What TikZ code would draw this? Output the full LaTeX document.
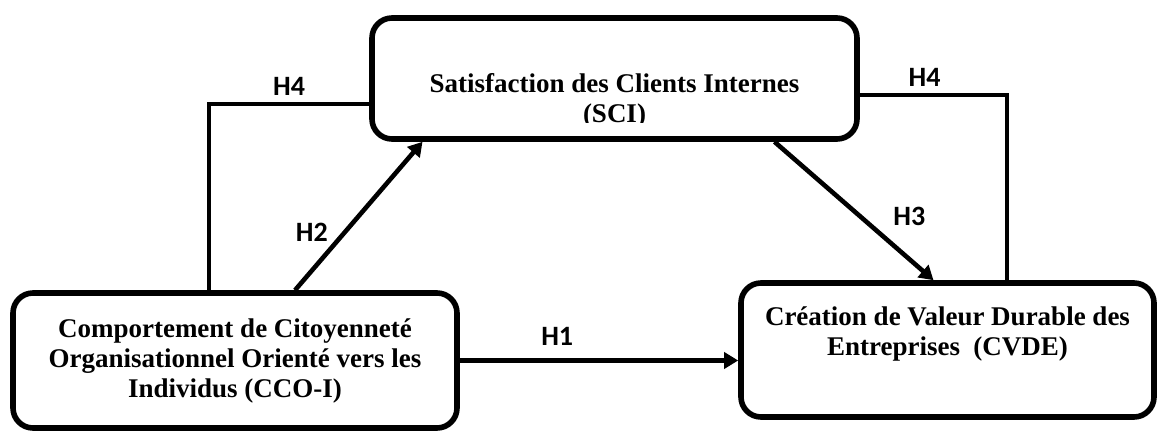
\documentclass[tikz,border=0pt]{standalone}
\usepackage{fontspec}
\setmainfont{Liberation Serif}
\newfontfamily\hypfont{Carlito}
\usetikzlibrary{arrows.meta}

\begin{document}
\begin{tikzpicture}[
  x=0.5pt, y=-0.5pt,
  >={Triangle[length=7pt,width=8pt]},
  link/.style={line width=2.3pt},
  arr/.style={link,->},
  construct/.style={draw,line width=2.8pt,rounded corners=10pt,inner sep=0pt},
  lbl/.style={font=\bfseries\fontsize{13.5}{15}\selectfont,align=center,inner sep=0pt},
  hyp/.style={font=\hypfont\bfseries\fontsize{14}{16}\selectfont}
]
\useasboundingbox (0,0) rectangle (1157,432);

% the three constructs
\node[construct,minimum width=242.5pt,minimum height=60.5pt] (sci) at (614.5,78.5) {};
\node[construct,minimum width=222pt,minimum height=67.5pt] (cco) at (235,360.5) {};
\node[construct,minimum width=206.5pt,minimum height=67pt] (cvde) at (947.5,350) {};

\begin{scope}
  \clip (sci.north west) rectangle ([yshift=9.5pt]sci.south east);
  \node[lbl,anchor=north] (scitext) at ([yshift=-29pt]sci.north)
    {Satisfaction des Clients Internes\\(SCI)};
\end{scope}
\node[lbl] (ccotext) at (cco.center)
  {Comportement de Citoyenneté\\Organisationnel Orienté vers les\\Individus (CCO-I)};
\node[lbl] (cvdetext) at ([yshift=8.25pt]cvde.center)
  {Création de Valeur Durable des\\Entreprises\ \ (CVDE)};

% hypotheses
\draw[arr] (cco.east) -- (cco.east -| cvde.west)
  node[hyp,pos=0.35,above=3pt] {H1};
\draw[arr] ([xshift=30pt]cco.north) -- ([xshift=-96pt]sci.south)
  node[hyp,pos=0.39,left=4pt] {H2};
\draw[arr] ([xshift=80pt]sci.south) -- ([xshift=-7pt]cvde.north)
  node[hyp,pos=0.54,right=12pt] {H3};
\draw[link] ([xshift=-13pt]cco.north) |- ([yshift=-12.75pt]sci.west)
  node[hyp,pos=0.75,above] {H4};
\draw[link] ([yshift=-8.25pt]sci.east) -| ([xshift=29.75pt]cvde.north)
  node[hyp,pos=0.22,above] {H4};
\end{tikzpicture}
\end{document}
